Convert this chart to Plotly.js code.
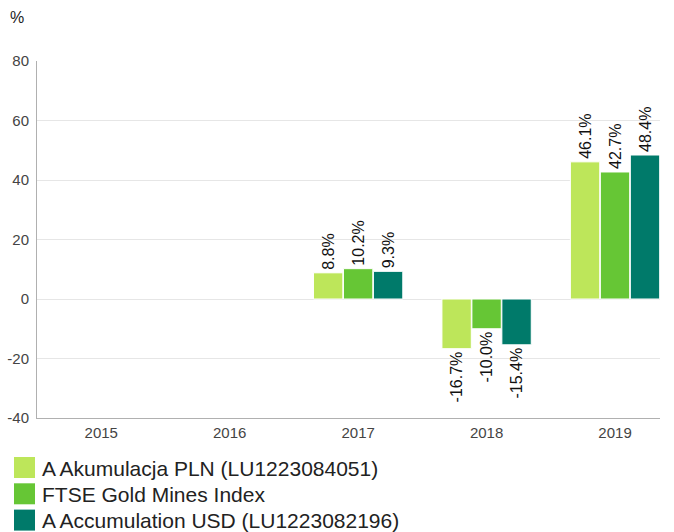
<!DOCTYPE html>
<html><head><meta charset="utf-8">
<script src="https://cdn.plot.ly/plotly-3.0.1.min.js"></script>
<style>html,body{margin:0;padding:0;background:#fff}#c{width:674px;height:532px}</style>
</head><body><div id="c"></div>
<script>
const years = ['2015','2016','2017','2018','2019'];
const seriesNames = ['A Akumulacja PLN (LU1223084051)','FTSE Gold Mines Index','A Accumulation USD (LU1223082196)'];
const akumulacjaPLN = [null, null, 8.8, -16.7, 46.1];
const ftseGoldMines = [null, null, 10.2, -10.0, 42.7];
const accumulationUSD = [null, null, 9.3, -15.4, 48.4];
const colors = ['#bde65a','#66c635','#007a6a'];
const yTicks = [-40,-20,0,20,40,60,80];

const font = 'Liberation Sans, Arial, sans-serif';
const vals = [akumulacjaPLN, ftseGoldMines, accumulationUSD];
const traces = vals.map((v,i)=>({
  type:'bar', x:years, y:v, name:seriesNames[i],
  marker:{color:colors[i], line:{color:'#ffffff', width:1}},
  text:v.map(d => d===null ? '' : d.toFixed(1) + '%'),
  texttemplate:'%{text}', textposition:'outside', textangle:-90, constraintext:'none',
  textfont:{family:font, size:16, color:'#111'}, cliponaxis:false,
  showlegend:false, hoverinfo:'skip'
}));

const shapes = [], annotations = [];
const plotTop = 61, plotH = 357, plotL = 37, plotW = 623;
const px2x = p => (p - plotL)/plotW;
const px2y = p => (plotTop + plotH - p)/plotH;
seriesNames.forEach((n,i)=>{
  const top = 457 + i*26.3;
  shapes.push({type:'rect', xref:'paper', yref:'paper', x0:px2x(14), x1:px2x(35), y0:px2y(top+21), y1:px2y(top), fillcolor:colors[i], line:{width:0}});
  annotations.push({xref:'paper', yref:'paper', x:px2x(40), y:px2y(top+11), xanchor:'left', yanchor:'middle', text:n, showarrow:false, font:{family:font, size:21, color:'#222'}});
});
annotations.push({xref:'paper', yref:'paper', x:px2x(8), y:px2y(17), xanchor:'left', yanchor:'middle', text:'%', showarrow:false, font:{family:font, size:16, color:'#222'}});

const layout = {
  width:674, height:532,
  margin:{l:plotL, r:674-plotL-plotW, t:plotTop, b:532-plotTop-plotH},
  paper_bgcolor:'#fff', plot_bgcolor:'#fff',
  barmode:'group', bargap:0.3, bargroupgap:0.02,
  showlegend:false,
  xaxis:{type:'category', range:[-0.5,4.35], showgrid:false, showline:true, linecolor:'#b0b0b0', linewidth:1, ticks:'', tickfont:{family:font, size:15, color:'#444'}, ticklabelstandoff:1, fixedrange:true},
  yaxis:{range:[-40,80], tickvals:yTicks, ticktext:yTicks.map(String), showgrid:true, gridcolor:'#e6e6e6', zeroline:true, zerolinecolor:'#e6e6e6', zerolinewidth:1, showline:true, linecolor:'#b0b0b0', linewidth:1, ticks:'', tickfont:{family:font, size:15, color:'#444'}, ticklabelstandoff:4, fixedrange:true},
  shapes:shapes, annotations:annotations
};
Plotly.newPlot('c', traces, layout, {displayModeBar:false, staticPlot:true});
</script></body></html>
